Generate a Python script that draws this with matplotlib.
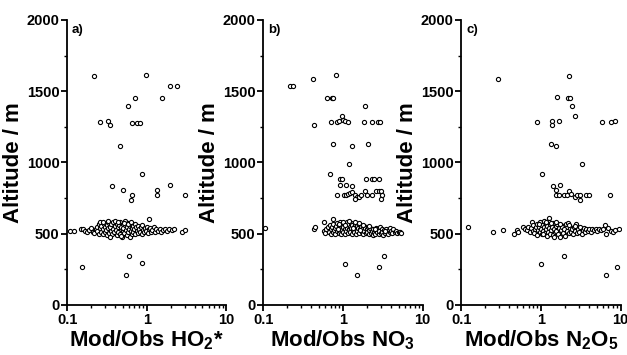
import numpy as np
import matplotlib
matplotlib.use("Agg")
import matplotlib.pyplot as plt
from matplotlib.ticker import FixedLocator, MultipleLocator, LogLocator, NullFormatter, FixedFormatter

plt.rcParams['font.family'] = ['Liberation Sans', 'DejaVu Sans']
plt.rcParams['font.weight'] = 'bold'
plt.rcParams['mathtext.fontset'] = 'custom'
plt.rcParams['mathtext.rm'] = 'Liberation Sans:bold'
plt.rcParams['mathtext.bf'] = 'Liberation Sans:bold'
plt.rcParams['mathtext.default'] = 'bf'

# panel a) Mod/Obs HO2*  -- scattered points
a_x = [0.22, 0.98, 1.95, 2.37, 0.72, 1.55, 0.59, 0.257, 0.328, 0.348, 0.66, 0.76, 0.82,
       0.456, 0.88, 0.365, 0.50, 0.655, 0.635, 1.35, 1.36, 1.98, 3.05, 1.07, 2.79, 3.05,
       0.11, 0.121, 0.155, 0.607, 0.86, 0.55]
a_y = [1607, 1614, 1537, 1537, 1455, 1455, 1399, 1284, 1289, 1261, 1280, 1278, 1276,
       1116, 919, 837, 807, 772, 737, 807, 772, 844, 770, 606, 515, 528,
       517, 517, 267, 344, 292, 208]
# panel a) dense band near 500 m
a_cx = [0.15, 0.16, 0.17, 0.18, 0.19, 0.20, 0.21, 0.22, 0.23, 0.24, 0.24, 0.25, 0.25, 0.26,
        0.26, 0.27, 0.27, 0.28, 0.28, 0.29, 0.30, 0.30, 0.31, 0.32, 0.32, 0.33, 0.34, 0.34,
        0.35, 0.36, 0.36, 0.37, 0.38, 0.38, 0.39, 0.40, 0.41, 0.42, 0.42, 0.43, 0.44, 0.45,
        0.46, 0.46, 0.47, 0.48, 0.49, 0.50, 0.50, 0.51, 0.52, 0.53, 0.54, 0.55, 0.56, 0.57,
        0.58, 0.59, 0.60, 0.61, 0.62, 0.63, 0.64, 0.65, 0.66, 0.67, 0.68, 0.70, 0.71, 0.72,
        0.74, 0.75, 0.77, 0.78, 0.80, 0.82, 0.84, 0.86, 0.88, 0.90, 0.92, 0.95, 0.98, 1.00,
        1.03, 1.06, 1.10, 1.14, 1.18, 1.22, 1.27, 1.32, 1.38, 1.45, 1.52, 1.60, 1.70, 1.80,
        1.92, 2.05, 2.20, 0.28, 0.33, 0.40, 0.44, 0.52, 0.58, 0.63, 0.35, 0.48]
a_cy = [535, 530, 520, 512, 525, 540, 515, 505, 530, 550, 520, 565, 500, 540,
        580, 515, 555, 530, 495, 570, 545, 510, 525, 560, 490, 540, 575, 505,
        550, 520, 565, 495, 535, 580, 510, 555, 525, 570, 490, 545, 515, 560,
        500, 585, 530, 550, 480, 520, 570, 540, 505, 590, 560, 525, 490, 545,
        575, 510, 535, 555, 480, 520, 570, 500, 540, 555, 515, 530, 565, 495,
        545, 520, 505, 555, 535, 515, 545, 500, 560, 525, 510, 540, 520, 550,
        505, 530, 540, 515, 525, 545, 510, 530, 520, 535, 515, 525, 530, 520,
        535, 525, 530, 585, 590, 590, 580, 575, 565, 585, 475, 485]

# panel b) Mod/Obs NO3 -- scattered points
b_x = [0.218, 0.235, 0.42, 0.81, 0.63, 0.72, 0.76, 1.88, 0.43, 0.71, 0.84, 0.90, 0.97,
       1.00, 1.06, 1.16, 1.84, 2.30, 2.78, 2.95, 0.76, 1.30, 2.05, 1.19, 0.69,
       0.93, 0.98, 1.97, 2.30, 2.43, 2.80, 0.93, 1.10, 1.30, 0.83, 1.03, 1.10, 1.17,
       1.24, 1.29, 1.40, 1.49, 1.43, 1.58, 1.70, 1.88, 2.03, 2.34, 2.58, 2.80, 2.97,
       3.10, 3.03, 0.106, 0.76, 0.57, 1.05, 1.50, 2.85, 3.30]
b_y = [1537, 1537, 1586, 1614, 1455, 1455, 1455, 1399, 1261, 1284, 1284, 1290, 1324,
       1296, 1290, 1284, 1284, 1284, 1284, 1284, 1127, 1116, 1130, 992, 919,
       887, 887, 887, 887, 887, 887, 842, 842, 837, 772, 772, 772, 777,
       786, 793, 772, 760, 742, 760, 772, 802, 772, 772, 802, 802, 800,
       772, 742, 540, 606, 580, 290, 208, 265, 342]
# panel b) dense band near 500 m
b_cx = [0.43, 0.44, 0.58, 0.60, 0.62, 0.64, 0.66, 0.68, 0.70, 0.71, 0.73, 0.74, 0.76, 0.77,
        0.79, 0.80, 0.82, 0.83, 0.85, 0.86, 0.88, 0.89, 0.91, 0.92, 0.94, 0.95, 0.97, 0.98,
        1.00, 1.01, 1.03, 1.05, 1.06, 1.08, 1.10, 1.11, 1.13, 1.15, 1.17, 1.19, 1.21, 1.23,
        1.25, 1.27, 1.29, 1.31, 1.34, 1.36, 1.38, 1.41, 1.44, 1.46, 1.49, 1.52, 1.55, 1.58,
        1.61, 1.64, 1.68, 1.71, 1.75, 1.78, 1.82, 1.86, 1.90, 1.94, 1.98, 2.02, 2.06, 2.10,
        2.15, 2.20, 2.25, 2.30, 2.35, 2.40, 2.45, 2.50, 2.56, 2.62, 2.68, 2.74, 2.80, 2.86,
        2.92, 2.98, 3.05, 3.12, 3.20, 3.28, 3.36, 3.45, 3.55, 3.65, 3.75, 3.85, 3.95, 4.05,
        4.15, 4.30, 4.45, 4.60, 4.80, 5.00, 5.20, 5.40, 0.90, 1.00, 1.20, 1.40, 1.60, 1.80,
        0.87, 1.07, 1.33, 1.65, 2.12, 2.55, 3.40]
b_cy = [535, 545, 520, 505, 530, 545, 515, 560, 495, 530, 550, 510, 570, 525,
        540, 500, 555, 520, 575, 535, 505, 550, 520, 585, 540, 500, 560, 525,
        545, 510, 575, 530, 495, 555, 520, 585, 540, 505, 565, 530, 550, 515,
        575, 540, 500, 560, 525, 545, 510, 570, 535, 495, 555, 520, 540, 505,
        565, 530, 550, 515, 535, 495, 555, 520, 540, 505, 530, 515, 545, 500,
        525, 540, 505, 520, 490, 535, 510, 525, 500, 540, 515, 530, 495, 520,
        545, 505, 530, 515, 490, 525, 505, 535, 515, 500, 525, 510, 540, 520,
        505, 530, 515, 520, 505, 515, 510, 505, 565, 580, 590, 585, 575, 560,
        535, 560, 540, 525, 555, 530, 520]

# panel c) Mod/Obs N2O5 -- scattered points
c_x = [0.287, 2.24, 1.57, 2.16, 2.32, 2.42, 2.67, 0.88, 1.37, 1.37, 1.66, 5.9, 7.6, 8.4,
       1.33, 1.55, 3.30, 1.03, 1.43, 1.52, 1.71, 1.53, 1.66, 1.94, 2.12, 2.23, 2.39,
       2.70, 2.85, 3.10, 3.10, 3.66, 4.00, 7.30, 1.24, 1.00, 1.95, 6.6, 9.0]
c_y = [1586, 1607, 1460, 1455, 1455, 1399, 1324, 1284, 1291, 1261, 1293, 1284, 1284, 1289,
       1130, 1116, 992, 919, 835, 807, 842, 772, 772, 772, 772, 798, 777,
       760, 772, 772, 737, 772, 772, 772, 608, 290, 344, 208, 267]
# panel c) dense band near 500 m
c_cx = [0.12, 0.25, 0.33, 0.46, 0.50, 0.52, 0.60, 0.63, 0.66, 0.69, 0.72, 0.74, 0.76, 0.78,
        0.80, 0.82, 0.84, 0.86, 0.88, 0.90, 0.92, 0.94, 0.96, 0.98, 1.00, 1.02, 1.04, 1.06,
        1.08, 1.10, 1.12, 1.14, 1.16, 1.18, 1.20, 1.22, 1.24, 1.26, 1.28, 1.31, 1.34, 1.37,
        1.40, 1.43, 1.46, 1.49, 1.52, 1.56, 1.60, 1.64, 1.68, 1.72, 1.76, 1.80, 1.85, 1.90,
        1.95, 2.00, 2.05, 2.10, 2.16, 2.22, 2.28, 2.35, 2.42, 2.50, 2.58, 2.66, 2.75, 2.84,
        2.93, 3.02, 3.12, 3.22, 3.33, 3.45, 3.57, 3.70, 3.85, 4.00, 4.20, 4.40, 4.60, 4.85,
        5.10, 5.40, 5.70, 6.00, 6.40, 6.50, 7.00, 7.50, 7.90, 8.50, 9.40, 0.95, 1.15, 1.35,
        1.55, 1.75, 2.25, 2.70, 1.05, 1.45]
c_cy = [550, 515, 527, 500, 527, 515, 545, 535, 525, 550, 515, 540, 580, 520,
        560, 505, 535, 550, 490, 570, 525, 545, 510, 580, 535, 500, 560, 520,
        590, 545, 505, 570, 530, 485, 555, 515, 585, 540, 500, 565, 525, 550,
        490, 575, 535, 510, 555, 520, 570, 500, 540, 480, 560, 525, 545, 505,
        530, 485, 565, 520, 575, 505, 540, 515, 530, 500, 545, 520, 570, 505,
        535, 515, 545, 500, 525, 540, 510, 530, 520, 535, 515, 530, 525, 535,
        520, 530, 525, 535, 560, 500, 540, 520, 515, 525, 530, 565, 580, 575,
        585, 570, 560, 555, 495, 480]

panels = [
    (a_x + a_cx, a_y + a_cy, 'a)', r'Mod/Obs HO$_2$*', 0.107),
    (b_x + b_cx, b_y + b_cy, 'b)', r'Mod/Obs NO$_3$', 0.420),
    (c_x + c_cx, c_y + c_cy, 'c)', r'Mod/Obs N$_2$O$_5$', 0.736),
]

fig = plt.figure(figsize=(6.27, 3.55), dpi=100)

for xs, ys, tag, xlab, left in panels:
    ax = fig.add_axes([left, 0.141, 0.254, 0.803])
    ax.plot(xs, ys, linestyle='none', marker='o', markersize=3.0,
            mfc='white', mec='black', mew=0.8)
    ax.set_xscale('log')
    ax.set_xlim(0.1, 10)
    ax.set_ylim(0, 2000)
    ax.xaxis.set_major_locator(FixedLocator([0.1, 1, 10]))
    ax.xaxis.set_major_formatter(FixedFormatter(['0.1', '1', '10']))
    ax.xaxis.set_minor_locator(LogLocator(base=10, subs=np.arange(2, 10)))
    ax.xaxis.set_minor_formatter(NullFormatter())
    ax.yaxis.set_major_locator(MultipleLocator(500))
    ax.yaxis.set_minor_locator(MultipleLocator(250))
    for s in ['top', 'right']:
        ax.spines[s].set_visible(False)
    for s in ['left', 'bottom']:
        ax.spines[s].set_linewidth(1.3)
    ax.tick_params(which='major', direction='out', length=4, width=1.3,
                   labelsize=10.5, pad=1.5)
    ax.tick_params(which='minor', direction='out', length=2.5, width=1.0)
    for lab in ax.get_xticklabels() + ax.get_yticklabels():
        lab.set_fontweight('bold')
    ax.set_ylabel('Altitude / m', fontsize=16, fontweight='bold', labelpad=2)
    ax.set_xlabel(xlab, fontsize=16, fontweight='bold', labelpad=1)
    ax.text(0.03, 0.985, tag, transform=ax.transAxes, fontsize=9.5,
            fontweight='bold', va='top', ha='left')

plt.savefig("out.png", dpi=100)
